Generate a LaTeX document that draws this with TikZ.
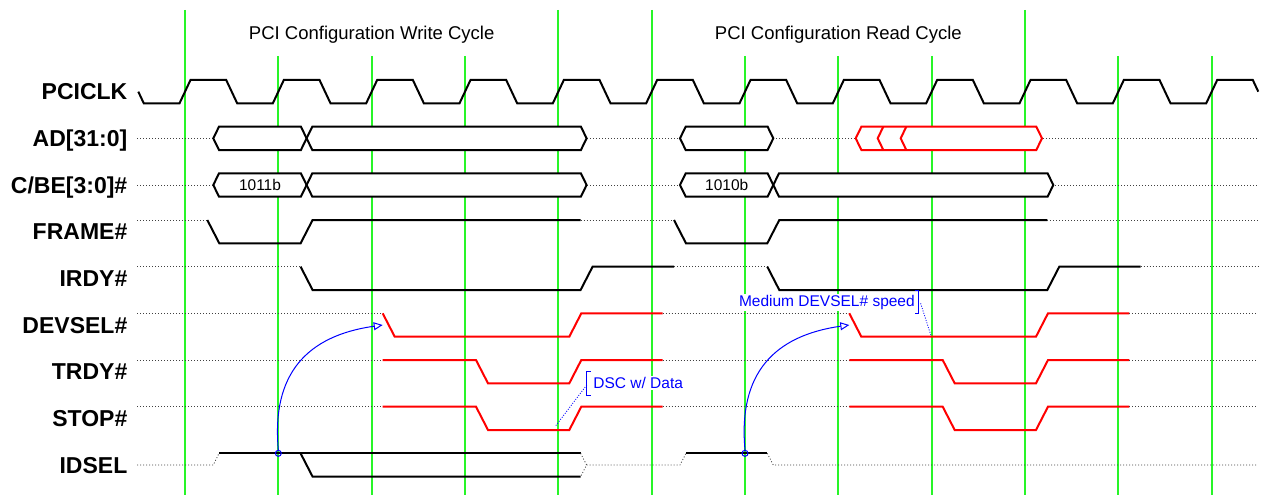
\documentclass[tikz,border=0pt]{standalone}
\usepackage{fontspec}
\setmainfont{Liberation Sans}
\usetikzlibrary{arrows.meta}
\definecolor{gridgreen}{RGB}{40,245,40}
\tikzset{
    grid/.style = {gridgreen,line width=1.9pt},
    sig/.style = {black,line width=2pt},
    tsig/.style = {red,line width=2pt},
    dots/.style = {black!75,line width=0.8pt,dash pattern=on 1pt off 2pt},
    siglabel/.style = {anchor=base east,font=\fontsize{23}{23}\selectfont\bfseries,inner sep=0pt},
    cycletitle/.style = {anchor=base,font=\fontsize{18.5}{20}\selectfont,inner sep=0pt},
    bustext/.style = {font=\fontsize{15.5}{16}\selectfont,inner sep=0pt},
    note/.style = {anchor=base west,blue,font=\fontsize{15.5}{16}\selectfont,inner sep=1pt,fill=white},
    selmark/.style = {circle,draw=blue,line width=1pt,minimum size=6pt,inner sep=0pt},
    cause/.style = {blue,line width=1pt,-{Triangle[open,length=9pt,width=8pt]}},
    leader/.style = {blue,line width=0.8pt,dash pattern=on 1pt off 1.5pt}}
% bus box: [style]{left}{right}{middle y}
\newcommand{\bus}[4][sig]{\draw[#1,fill=white] (#2,#4) -- ({#2+5.7},{#4-11.67}) -- ({#3-5.7},{#4-11.67}) -- (#3,#4) -- ({#3-5.7},{#4+11.67}) -- ({#2+5.7},{#4+11.67}) -- cycle;}
\begin{document}
\begin{tikzpicture}[x=1pt,y=-1pt]
    \useasboundingbox (0,0) rectangle (1262,495);
    % clock grid
    \foreach \k in {0,...,11}
        \draw[grid] ({185+\k*93.333},56) -- ({185+\k*93.333},495);
    \foreach \k in {0,4,5,9}
        \draw[grid] ({185+\k*93.333},10) -- ({185+\k*93.333},56);
    \node[cycletitle] (twrite) at (371.67,39.3) {PCI Configuration Write Cycle};
    \node[cycletitle] (tread) at (838.33,39.3) {PCI Configuration Read Cycle};
    % labels
    \node[siglabel] (lclk) at (127.5,99.9) {PCICLK};
    \node[siglabel] (lad) at (127.5,146.6) {AD[31:0]};
    \node[siglabel] (lcbe) at (127.5,193.3) {C/BE[3:0]\#};
    \node[siglabel] (lframe) at (127.5,239.9) {FRAME\#};
    \node[siglabel] (lirdy) at (127.5,286.6) {IRDY\#};
    \node[siglabel] (ldevsel) at (127.5,333.3) {DEVSEL\#};
    \node[siglabel] (ltrdy) at (127.5,379.9) {TRDY\#};
    \node[siglabel] (lstop) at (127.5,426.6) {STOP\#};
    \node[siglabel] (lidsel) at (127.5,473.3) {IDSEL};
    % PCICLK
    \draw[sig] (138.3,91.67) -- (143.8,103.33)
        foreach \k in {0,...,10} { -- ({179.5+\k*93.333},103.33) -- ({190.5+\k*93.333},80)
        -- ({226.2+\k*93.333},80) -- ({237.2+\k*93.333},103.33) }
        -- (1206.2,103.33) -- (1217.2,80) -- (1252.8,80) -- (1258.3,91.67);
    % AD[31:0]
    \draw[dots] (137,138.33) -- (1258,138.33);
    \bus{213.3}{306.6}{138.33}
    \bus{306.6}{586.6}{138.33}
    \bus{680}{773.3}{138.33}
    \bus[tsig]{855.7}{1042}{138.33}
    \draw[tsig] (883.3,126.67) -- (877.7,138.33) -- (883.3,150);
    \draw[tsig] (906.3,126.67) -- (900.7,138.33) -- (906.3,150);
    % C/BE[3:0]#
    \draw[dots] (137,185) -- (1258,185);
    \bus{213.3}{306.6}{185}
    \bus{306.6}{586.6}{185}
    \bus{680}{773.3}{185}
    \bus{773.3}{1053.3}{185}
    \node[bustext] (cbew) at (260,185) {1011b};
    \node[bustext] (cber) at (726.7,185) {1010b};
    % FRAME#
    \draw[dots] (137,220) -- (207.3,220);
    \draw[sig] (207.3,220) -- (219.3,243.33) -- (300.6,243.33) -- (312.6,220) -- (580.6,220);
    \draw[dots] (580.6,220) -- (674,220);
    \draw[sig] (674,220) -- (686,243.33) -- (767.3,243.33) -- (779.3,220) -- (1047.3,220);
    \draw[dots] (1047.3,220) -- (1258,220);
    % IRDY#
    \draw[dots] (137,266.67) -- (300.6,266.67);
    \draw[sig] (300.6,266.67) -- (312.6,290) -- (580.6,290) -- (592.6,266.67) -- (674,266.67);
    \draw[dots] (674,266.67) -- (767.3,266.67);
    \draw[sig] (767.3,266.67) -- (779.3,290) -- (1047.3,290) -- (1059.3,266.67) -- (1140.6,266.67);
    \draw[dots] (1140.6,266.67) -- (1258,266.67);
    % DEVSEL#
    \draw[dots] (137,313.33) -- (382.7,313.33);
    \draw[tsig] (382.7,313.33) -- (394.7,336.67) -- (569.3,336.67) -- (581.3,313.33) -- (662.7,313.33);
    \draw[dots] (662.7,313.33) -- (849.3,313.33);
    \draw[tsig] (849.3,313.33) -- (861.3,336.67) -- (1036,336.67) -- (1048,313.33) -- (1129.3,313.33);
    \draw[dots] (1129.3,313.33) -- (1258,313.33);
    % TRDY# and STOP#
    \foreach \y in {360,406.67} {
        \draw[dots] (137,\y) -- (382.7,\y);
        \draw[tsig] (382.7,\y) -- (476,\y) -- (488,{\y+23.33}) -- (569.3,{\y+23.33}) -- (581.3,\y) -- (662.7,\y);
        \draw[dots] (662.7,\y) -- (849.3,\y);
        \draw[tsig] (849.3,\y) -- (942.7,\y) -- (954.7,{\y+23.33}) -- (1036,{\y+23.33}) -- (1048,\y) -- (1129.3,\y);
        \draw[dots] (1129.3,\y) -- (1258,\y);
    }
    % IDSEL
    \draw[dots] (137,465) -- (213.3,465) -- (219,453.33);
    \draw[sig] (219,453.33) -- (580.6,453.33);
    \draw[sig] (300.6,453.33) -- (312.6,476.67) -- (580.6,476.67);
    \draw[dots] (580.6,453.33) -- (586.6,465) -- (580.6,476.67);
    \draw[dots] (586.6,465) -- (680,465) -- (686,453.33);
    \draw[sig] (686,453.33) -- (767.3,453.33);
    \draw[dots] (767.3,453.33) -- (773.3,465) -- (1258,465);
    % IDSEL -> DEVSEL
    \node[selmark] (selw) at (278.33,453.33) {};
    \node[selmark] (selr) at (745,453.33) {};
    \coordinate (devw) at (382.7,325);
    \coordinate (devr) at (849.3,325);
    \draw[cause] (selw.north) .. controls (271.3,373.7) and (307.1,335.7) .. (devw);
    \draw[cause] (selr.north) .. controls (738,373.7) and (773.8,335.7) .. (devr);
    % notes
    \node[note] (ndsc) at (592.2,388.5) {DSC w/ Data};
    \draw[blue,line width=1pt] (590.7,371.7) -- (586.7,371.7) -- (586.7,395.7) -- (590.7,395.7);
    \coordinate (dscpt) at (555,426.7);
    \draw[leader] (586.7,385) -- (dscpt);
    \node[note] (nspeed) at (737.8,306.3) {Medium DEVSEL\# speed};
    \draw[blue,line width=1pt] (914.5,290) -- (918.6,290) -- (918.6,313.3) -- (914.5,313.3);
    \coordinate (speedpt) at (930.8,335);
    \draw[leader] (920.6,303.3) -- (speedpt);
\end{tikzpicture}
\end{document}
